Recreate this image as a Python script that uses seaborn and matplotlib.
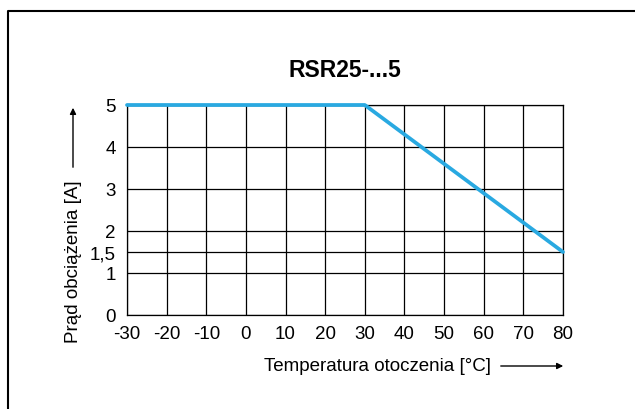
import matplotlib
matplotlib.use("Agg")
import matplotlib.pyplot as plt
import seaborn as sns
import pandas as pd
from matplotlib.lines import Line2D

# Derating curve values
temperature = [-30, 30, 80]
current = [5, 5, 1.5]
x_ticks = [-30, -20, -10, 0, 10, 20, 30, 40, 50, 60, 70, 80]
y_ticks = [0, 1, 1.5, 2, 3, 4, 5]
y_tick_labels = ["0", "1", "1,5", "2", "3", "4", "5"]

sns.set_style("white")
plt.rcParams['font.family'] = ['Liberation Sans', 'DejaVu Sans']
plt.rcParams['text.color'] = 'black'
plt.rcParams['xtick.color'] = 'black'
plt.rcParams['ytick.color'] = 'black'
plt.rcParams['axes.labelcolor'] = 'black'

data = pd.DataFrame({'Temperatura': temperature, 'Prad': current})

fig = plt.figure(figsize=(6.35, 4.1), dpi=100)
ax = fig.add_axes([127 / 635, 1 - 316 / 410, 436 / 635, 210 / 410])

sns.lineplot(data=data, x='Temperatura', y='Prad', ax=ax, color='#29a9e1',
             linewidth=2.7, clip_on=False, zorder=5)

ax.set_xlim(-30, 80)
ax.set_ylim(0, 5)
ax.set_xticks(x_ticks)
ax.set_xticklabels([str(t) for t in x_ticks], fontsize=13.5)
ax.set_yticks(y_ticks)
ax.set_yticklabels(y_tick_labels, fontsize=13.5)
ax.tick_params(axis='both', length=0, pad=7, colors='black')
ax.tick_params(axis='y', pad=8)
ax.grid(True, color='black', linewidth=0.9)
for side in ['top', 'right', 'bottom', 'left']:
    ax.spines[side].set_visible(True)
    ax.spines[side].set_color('black')
    ax.spines[side].set_linewidth(0.9)
ax.set_xlabel('')
ax.set_ylabel('')

ax.set_title('RSR25-...5', fontsize=16.5, fontweight='bold', pad=21, color='black')

# axis labels with arrows
fig.text(377 / 635, 1 - 367 / 410, 'Temperatura otoczenia [°C]', fontsize=13.5,
         ha='center', va='center')
fig.add_artist(matplotlib.patches.FancyArrowPatch(
    (498 / 635, 1 - 367 / 410), (566 / 635, 1 - 367 / 410),
    transform=fig.transFigure, arrowstyle='-|>', mutation_scale=9,
    color='black', linewidth=1))

fig.text(73 / 635, 1 - 262 / 410, 'Prąd obciążenia [A]', fontsize=13.5,
         ha='center', va='center', rotation=90)
fig.add_artist(matplotlib.patches.FancyArrowPatch(
    (73 / 635, 1 - 171 / 410), (73 / 635, 1 - 106 / 410),
    transform=fig.transFigure, arrowstyle='-|>', mutation_scale=9,
    color='black', linewidth=1))

# frame around the picture (left and top edges only)
fig.add_artist(Line2D([7.5 / 635, 7.5 / 635, 1.0], [0.0, 1 - 11.5 / 410, 1 - 11.5 / 410],
                      transform=fig.transFigure, color='black', linewidth=1.5))

fig.savefig('out.png', dpi=100)
